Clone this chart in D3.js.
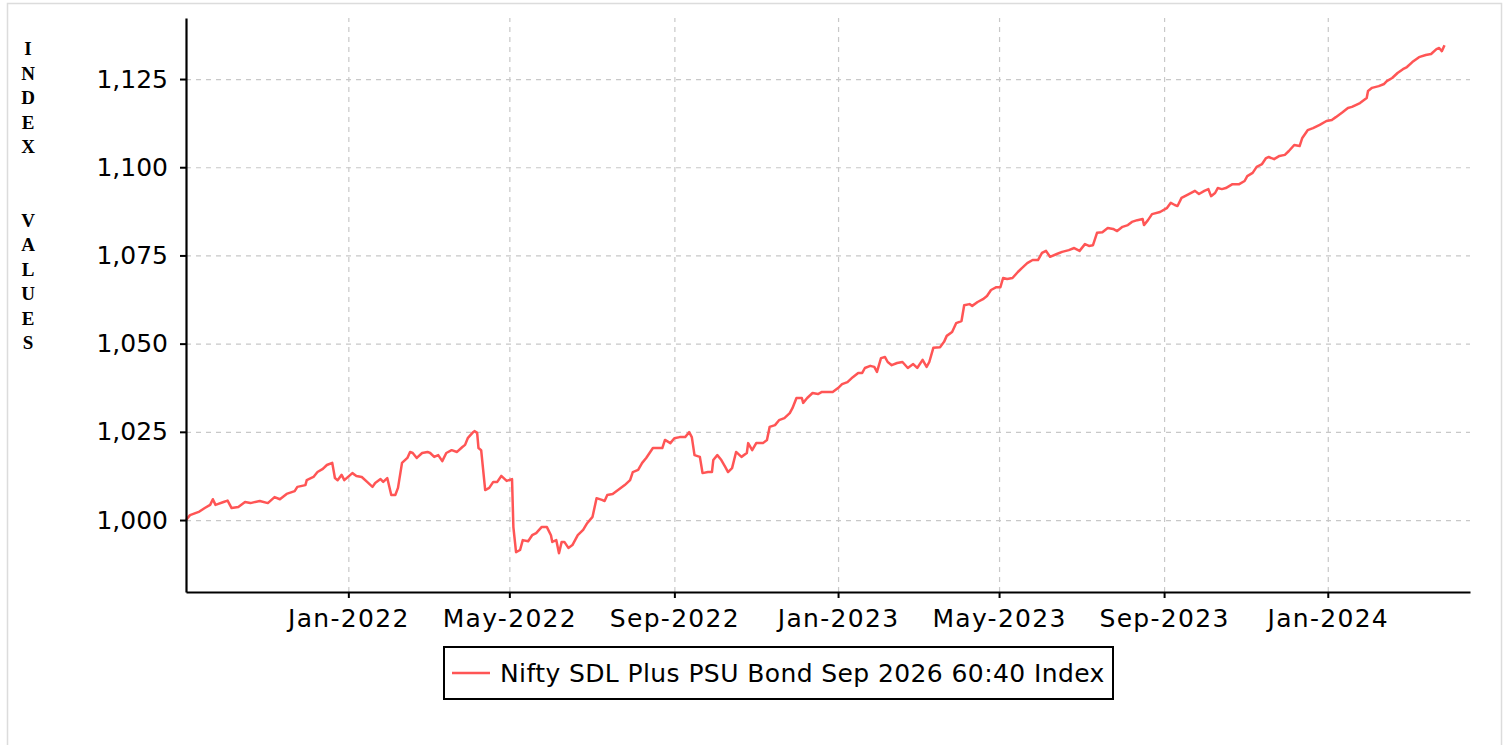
<!DOCTYPE html>
<html>
<head>
<meta charset="utf-8">
<script src="https://cdnjs.cloudflare.com/ajax/libs/d3/7.8.5/d3.min.js"></script>
<style>
  body { margin: 0; background: #fff; }
  .tick text { font-family: "DejaVu Sans", sans-serif; }
</style>
</head>
<body>
<div id="chart"></div>
<script>
// index values
var dates = [
  "2021-09-02","2021-09-05","2021-09-12","2021-09-16","2021-09-20","2021-09-22","2021-09-24","2021-09-30",
  "2021-10-03","2021-10-06","2021-10-11","2021-10-16","2021-10-20","2021-10-27","2021-11-02","2021-11-07",
  "2021-11-11","2021-11-16","2021-11-22","2021-11-24","2021-11-30","2021-12-01","2021-12-06","2021-12-09",
  "2021-12-13","2021-12-16","2021-12-20","2021-12-22","2021-12-24","2021-12-27","2021-12-29","2022-01-04",
  "2022-01-07","2022-01-11","2022-01-15","2022-01-19","2022-01-21","2022-01-25","2022-01-27","2022-01-30",
  "2022-02-02","2022-02-05","2022-02-07","2022-02-10","2022-02-14","2022-02-16","2022-02-18","2022-02-21",
  "2022-02-25","2022-03-01","2022-03-03","2022-03-06","2022-03-09","2022-03-12","2022-03-15","2022-03-19",
  "2022-03-23","2022-03-27","2022-03-29","2022-03-31","2022-04-04","2022-04-05","2022-04-07","2022-04-08",
  "2022-04-10","2022-04-13","2022-04-16","2022-04-19","2022-04-22","2022-04-25","2022-04-29","2022-05-03",
  "2022-05-04","2022-05-06","2022-05-09","2022-05-11","2022-05-15","2022-05-18","2022-05-21","2022-05-25",
  "2022-05-29","2022-06-01","2022-06-02","2022-06-05","2022-06-07","2022-06-09","2022-06-11","2022-06-14",
  "2022-06-17","2022-06-21","2022-06-25","2022-06-28","2022-07-02","2022-07-05","2022-07-09","2022-07-11",
  "2022-07-13","2022-07-17","2022-07-21","2022-07-26","2022-07-30","2022-08-01","2022-08-05","2022-08-08",
  "2022-08-11","2022-08-16","2022-08-20","2022-08-23","2022-08-25","2022-08-29","2022-09-01","2022-09-05",
  "2022-09-09","2022-09-12","2022-09-14","2022-09-16","2022-09-20","2022-09-22","2022-09-26","2022-09-29",
  "2022-09-30","2022-10-03","2022-10-06","2022-10-09","2022-10-11","2022-10-14","2022-10-17","2022-10-21",
  "2022-10-25","2022-10-26","2022-10-29","2022-11-01","2022-11-06","2022-11-09","2022-11-11","2022-11-15",
  "2022-11-18","2022-11-22","2022-11-26","2022-11-28","2022-12-01","2022-12-05","2022-12-06","2022-12-09",
  "2022-12-13","2022-12-17","2022-12-20","2022-12-26","2022-12-28","2023-01-01","2023-01-04","2023-01-08",
  "2023-01-12","2023-01-16","2023-01-19","2023-01-21","2023-01-25","2023-01-28","2023-01-30","2023-02-02",
  "2023-02-05","2023-02-07","2023-02-10","2023-02-14","2023-02-18","2023-02-22","2023-02-26","2023-03-01",
  "2023-03-05","2023-03-08","2023-03-10","2023-03-13","2023-03-18","2023-03-21","2023-03-23","2023-03-27",
  "2023-03-30","2023-04-03","2023-04-05","2023-04-09","2023-04-11","2023-04-15","2023-04-19","2023-04-22",
  "2023-04-25","2023-04-29","2023-05-02","2023-05-04","2023-05-07","2023-05-11","2023-05-15","2023-05-18",
  "2023-05-22","2023-05-26","2023-05-30","2023-06-02","2023-06-05","2023-06-08","2023-06-13","2023-06-17",
  "2023-06-22","2023-06-26","2023-06-30","2023-07-04","2023-07-07","2023-07-10","2023-07-13","2023-07-17",
  "2023-07-21","2023-07-25","2023-07-28","2023-08-01","2023-08-05","2023-08-08","2023-08-12","2023-08-16",
  "2023-08-17","2023-08-20","2023-08-23","2023-08-29","2023-09-03","2023-09-06","2023-09-09","2023-09-11",
  "2023-09-14","2023-09-18","2023-09-24","2023-09-27","2023-10-01","2023-10-04","2023-10-06","2023-10-09",
  "2023-10-11","2023-10-14","2023-10-17","2023-10-22","2023-10-27","2023-10-31","2023-11-02","2023-11-06",
  "2023-11-09","2023-11-13","2023-11-16","2023-11-18","2023-11-22","2023-11-26","2023-11-30","2023-12-03",
  "2023-12-07","2023-12-11","2023-12-13","2023-12-17","2023-12-21","2023-12-26","2023-12-31","2024-01-04",
  "2024-01-07","2024-01-12","2024-01-16","2024-01-19","2024-01-25","2024-01-30","2024-01-31","2024-02-03",
  "2024-02-08","2024-02-12","2024-02-14","2024-02-18","2024-02-22","2024-02-26","2024-02-29","2024-03-04",
  "2024-03-09","2024-03-14","2024-03-18","2024-03-22","2024-03-24","2024-03-26","2024-03-28"
];
var values = [
  1000.0,1001.4,1002.4,1003.4,1004.3,1005.9,1004.3,1005.1,
  1005.5,1003.4,1003.7,1005.1,1004.8,1005.4,1004.8,1006.5,
  1005.9,1007.4,1008.2,1009.4,1009.9,1011.3,1012.2,1013.6,
  1014.5,1015.6,1016.2,1011.9,1011.3,1012.8,1011.3,1013.3,
  1012.5,1012.2,1010.8,1009.4,1010.5,1011.6,1010.8,1011.9,
  1007.1,1007.1,1009.1,1016.2,1017.6,1019.3,1019.0,1017.6,
  1019.0,1019.3,1019.0,1017.9,1018.4,1016.7,1019.0,1019.8,
  1019.3,1020.7,1021.3,1023.2,1024.9,1025.2,1024.7,1020.4,
  1019.8,1008.5,1009.1,1010.8,1010.8,1012.5,1011.1,1011.6,
  998.0,990.9,991.5,994.3,994.0,995.7,996.3,998.0,
  998.0,995.7,993.8,994.3,990.6,993.8,993.8,992.1,
  992.9,995.7,997.2,999.1,1000.9,1006.2,1005.7,1005.4,
  1007.1,1007.4,1008.5,1009.9,1011.3,1013.6,1014.2,1016.2,
  1017.6,1020.4,1020.4,1020.4,1022.7,1021.8,1023.2,1023.5,
  1023.5,1024.9,1023.5,1018.4,1017.9,1013.3,1013.6,1013.6,
  1017.0,1018.4,1017.0,1015.0,1013.6,1014.7,1019.3,1017.9,
  1019.0,1021.8,1019.8,1021.8,1021.8,1022.7,1026.4,1026.9,
  1028.3,1028.9,1030.3,1031.7,1034.6,1034.6,1033.2,1034.6,
  1036.0,1035.7,1036.3,1036.3,1036.3,1037.4,1038.5,1039.1,
  1040.5,1041.7,1041.7,1043.1,1043.7,1043.4,1042.0,1045.9,
  1046.2,1044.8,1043.9,1044.5,1044.8,1043.1,1044.2,1043.1,
  1045.4,1043.4,1044.8,1048.8,1049.0,1050.5,1052.2,1053.3,
  1055.8,1056.4,1060.9,1061.2,1060.7,1061.8,1062.6,1063.5,
  1065.2,1066.0,1066.0,1068.6,1068.3,1068.6,1070.3,1071.4,
  1072.8,1073.7,1073.7,1075.7,1076.3,1074.6,1075.4,1076.0,
  1076.5,1077.1,1076.3,1078.2,1077.7,1077.9,1081.4,1081.6,
  1082.8,1082.5,1081.9,1083.1,1083.6,1084.5,1085.0,1085.3,
  1083.6,1085.0,1086.7,1087.3,1088.4,1089.9,1089.3,1089.0,
  1091.3,1092.1,1093.3,1092.4,1093.3,1093.8,1091.8,1092.7,
  1094.1,1093.8,1094.1,1095.2,1095.2,1096.1,1097.5,1098.4,
  1100.1,1100.9,1102.6,1102.9,1102.3,1103.2,1103.5,1104.6,
  1106.3,1106.0,1108.3,1110.5,1111.1,1112.0,1113.1,1113.4,
  1114.2,1115.6,1116.8,1117.1,1118.2,1119.6,1121.6,1122.5,
  1123.0,1123.6,1124.4,1125.3,1126.7,1127.8,1128.4,1129.8,
  1131.2,1131.8,1132.1,1133.5,1133.8,1132.9,1134.6
];
var seriesName = "Nifty SDL Plus PSU Bond Sep 2026 60:40 Index";
var yTicks = [1000, 1025, 1050, 1075, 1100, 1125];
var xTickMonths = ["2022-01-01","2022-05-01","2022-09-01","2023-01-01","2023-05-01","2023-09-01","2024-01-01"];
var yLabelLetters = ["I","N","D","E","X","","","V","A","L","U","E","S"];

var svgWidth = 1506, svgHeight = 745;
var plotLeft = 186, plotRight = 1470, plotTop = 18, plotBottom = 592;
var lineColor = "#ff5555";

var parseDate = d3.timeParse("%Y-%m-%d");
var data = dates.map(function(d, i) { return {date: parseDate(d), value: values[i]}; });

var x = d3.scaleTime()
    .domain([parseDate("2021-09-02"), parseDate("2024-04-16")])
    .range([plotLeft, plotRight]);
var y = d3.scaleLinear()
    .domain([979.6, 1142.3])
    .range([plotBottom, plotTop]);

var svg = d3.select("#chart").append("svg")
    .attr("width", svgWidth)
    .attr("height", svgHeight);

// light outer frame
svg.append("rect")
    .attr("x", 7.5).attr("y", 3.5)
    .attr("width", 1494).attr("height", 760)
    .attr("fill", "none")
    .attr("stroke", "#dcdcdc")
    .attr("stroke-width", 1.5);

// grid
var gridY = svg.append("g")
    .attr("transform", "translate(" + plotLeft + ",0)")
    .call(d3.axisLeft(y).tickValues(yTicks).tickSize(-(plotRight - plotLeft)).tickFormat(""));
var gridX = svg.append("g")
    .attr("transform", "translate(0," + plotBottom + ")")
    .call(d3.axisBottom(x).tickValues(xTickMonths.map(parseDate)).tickSize(-(plotBottom - plotTop)).tickFormat(""));
[gridY, gridX].forEach(function(g) {
    g.select(".domain").remove();
    g.selectAll(".tick line")
        .attr("stroke", "#c8c8c8")
        .attr("stroke-width", 1.2)
        .attr("stroke-dasharray", "5,5");
});

// the line
var line = d3.line()
    .x(function(d) { return x(d.date); })
    .y(function(d) { return y(d.value); });
svg.append("path")
    .datum(data)
    .attr("fill", "none")
    .attr("stroke", lineColor)
    .attr("stroke-width", 2.5)
    .attr("stroke-linejoin", "round")
    .attr("d", line);

// axes
var yAxis = svg.append("g")
    .attr("transform", "translate(" + plotLeft + ",0)")
    .call(d3.axisLeft(y).tickValues(yTicks).tickSize(6).tickSizeOuter(0).tickPadding(12).tickFormat(d3.format(",")));
var xAxis = svg.append("g")
    .attr("transform", "translate(0," + plotBottom + ")")
    .call(d3.axisBottom(x).tickValues(xTickMonths.map(parseDate)).tickSize(6).tickSizeOuter(0).tickPadding(11)
        .tickFormat(d3.timeFormat("%b-%Y")));
[yAxis, xAxis].forEach(function(g) {
    g.select(".domain").attr("stroke", "#000").attr("stroke-width", 2.2);
    g.selectAll(".tick line").attr("stroke", "#000").attr("stroke-width", 2);
    g.selectAll(".tick text")
        .attr("font-size", 25)
        .attr("fill", "#000");
});
xAxis.selectAll(".tick text").attr("letter-spacing", 1.3);

// vertical stacked axis title
svg.append("g")
    .selectAll("text")
    .data(yLabelLetters)
    .enter()
    .append("text")
    .attr("x", 28)
    .attr("y", function(d, i) { return 55 + i * 24.5; })
    .attr("text-anchor", "middle")
    .attr("font-family", "'Liberation Serif', serif")
    .attr("font-weight", "bold")
    .attr("font-size", 19)
    .text(function(d) { return d; });

// legend
var legend = svg.append("g");
legend.append("rect")
    .attr("x", 444).attr("y", 647)
    .attr("width", 669).attr("height", 52)
    .attr("fill", "#fff")
    .attr("stroke", "#000")
    .attr("stroke-width", 2);
legend.append("line")
    .attr("x1", 452).attr("x2", 490)
    .attr("y1", 673).attr("y2", 673)
    .attr("stroke", lineColor)
    .attr("stroke-width", 2.5);
legend.append("text")
    .attr("x", 500).attr("y", 682)
    .attr("font-family", "'DejaVu Sans', sans-serif")
    .attr("font-size", 25)
    .attr("letter-spacing", 0.4)
    .text(seriesName);
</script>
</body>
</html>
